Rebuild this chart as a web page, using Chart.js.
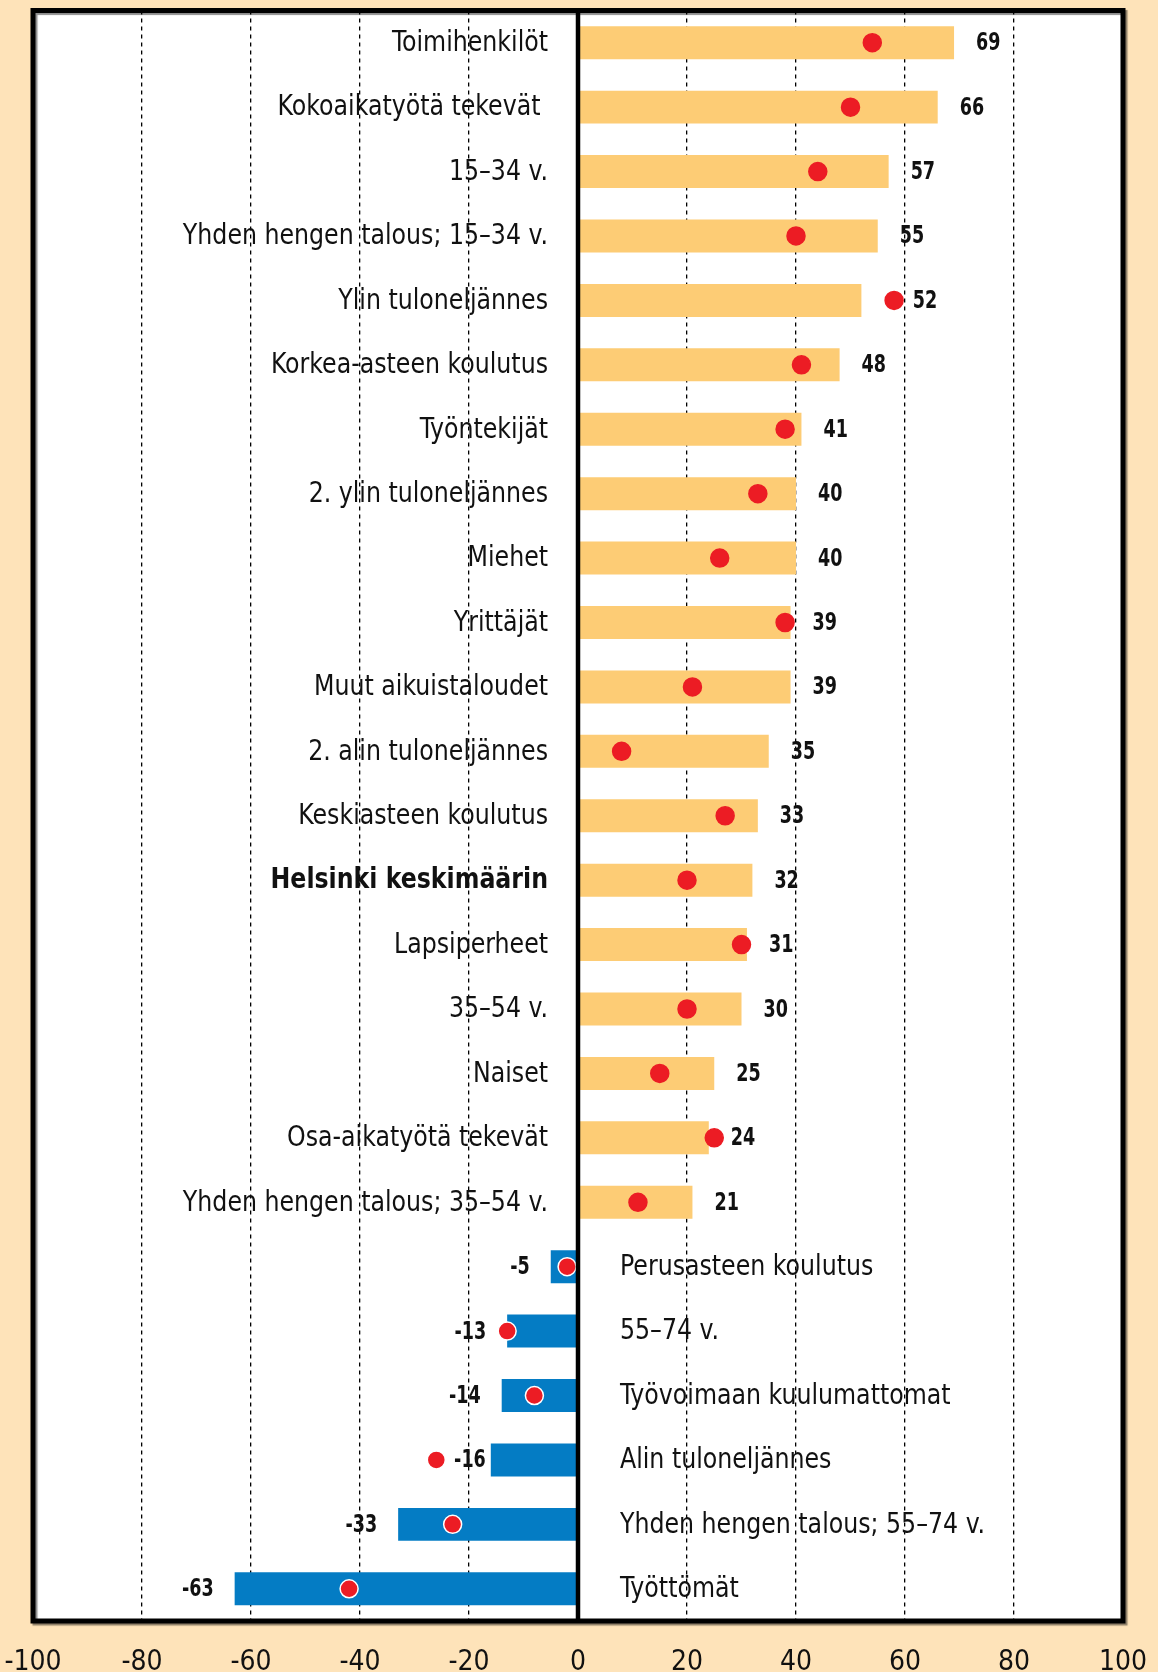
<!DOCTYPE html>
<html>
<head>
<meta charset="utf-8">
<script src="https://cdn.jsdelivr.net/npm/chart.js@4.4.1/dist/chart.umd.min.js"></script>
<style>
  html, body { margin: 0; padding: 0; background: #fee3b9; }
  #wrap { width: 1158px; height: 1672px; }
</style>
</head>
<body>
<div id="wrap"><canvas id="chart" width="1158" height="1672"></canvas></div>
<script>
const categories = [
  "Toimihenkilöt", "Kokoaikatyötä tekevät ", "15–34 v.", "Yhden hengen talous; 15–34 v.",
  "Ylin tuloneljännes", "Korkea-asteen koulutus", "Työntekijät", "2. ylin tuloneljännes",
  "Miehet", "Yrittäjät", "Muut aikuistaloudet", "2. alin tuloneljännes",
  "Keskiasteen koulutus", "Helsinki keskimäärin", "Lapsiperheet", "35–54 v.",
  "Naiset", "Osa-aikatyötä tekevät", "Yhden hengen talous; 35–54 v.", "Perusasteen koulutus",
  "55–74 v.", "Työvoimaan kuulumattomat", "Alin tuloneljännes", "Yhden hengen talous; 55–74 v.",
  "Työttömät"
]
// bar values (balance, %)
const shares = [69, 66, 57, 55, 52, 48, 41, 40, 40, 39, 39, 35, 33, 32, 31, 30, 25, 24, 21, -5, -13, -14, -16, -33, -63]
// red dots (comparison value)
const dots = [54, 50, 44, 40, 58, 41, 38, 33, 26, 38, 21, 8, 27, 20, 30, 20, 15, 25, 11, -2, -13, -8, -26, -23, -42]
const xTicks = [-100, -80, -60, -40, -20, 0, 20, 40, 60, 80, 100]
const boldCategory = "Helsinki keskimäärin"

const FAMILY = '"DejaVu Sans Condensed", "Liberation Sans", sans-serif'
const RED = "#ec1c24"
const DOT_R = 9

// text squeezed horizontally, the original uses a condensed face
function squeezed(ctx, text, x, y, align, sx) {
  ctx.save()
  ctx.translate(x, y)
  ctx.scale(sx, 1)
  ctx.textAlign = align
  ctx.fillText(text, 0, 0)
  ctx.restore()
}

const plotBg = {
  id: "plotBg",
  beforeDraw(chart) {
    const { ctx, chartArea: a } = chart
    ctx.save()
    ctx.fillStyle = "#fff"
    ctx.fillRect(a.left, a.top, a.right - a.left, a.bottom - a.top)
    ctx.restore()
  },
}

const rowLabels = {
  id: "rowLabels",
  afterDatasetsDraw(chart) {
    const { ctx, chartArea: a, scales: { x, y } } = chart
    const zero = x.getPixelForValue(0)
    ctx.save()
    ctx.strokeStyle = "#000"
    ctx.lineWidth = 4.5
    ctx.beginPath()
    ctx.moveTo(zero, a.top)
    ctx.lineTo(zero, a.bottom)
    ctx.stroke()

    ctx.textBaseline = "middle"
    ctx.fillStyle = "#111"
    const r = DOT_R + 0.75
    const sxVal = 0.78
    categories.forEach((name, i) => {
      const cy = y.getPixelForValue(i) + 1
      const v = shares[i]
      ctx.font = (name === boldCategory ? "bold " : "") + "28px " + FAMILY
      if (v >= 0) squeezed(ctx, name, zero - 30, cy, "right", 0.94)
      else squeezed(ctx, name, zero + 42, cy, "left", 0.94)

      // value label next to the bar end, moved aside if the dot is in the way
      ctx.font = "bold 25px " + FAMILY
      const txt = String(v)
      const w = ctx.measureText(txt).width * sxVal
      const end = x.getPixelForValue(v)
      const dx = x.getPixelForValue(dots[i])
      const hits = (l) => l < dx + r && l + w > dx - r
      if (v >= 0) {
        let left = end + 22
        if (hits(left)) left = dx + r + 9
        squeezed(ctx, txt, left, cy, "left", sxVal)
      } else {
        let right = end - 21
        if (hits(right - w)) right = end - 5
        if (hits(right - w)) right = dx - r - 9
        squeezed(ctx, txt, right - w, cy, "left", sxVal)
      }
    })
    ctx.restore()
  },
}

const frame = {
  id: "frame",
  afterDraw(chart) {
    const { ctx, chartArea: a } = chart
    ctx.save()
    ctx.strokeStyle = "#000"
    ctx.lineWidth = 5
    ctx.shadowColor = "rgba(0,0,0,0.45)"
    ctx.shadowOffsetX = 2
    ctx.shadowOffsetY = 2
    ctx.shadowBlur = 1
    ctx.strokeRect(a.left, a.top, a.right - a.left, a.bottom - a.top)
    ctx.restore()
  },
}

new Chart(document.getElementById("chart"), {
  type: "bar",
  data: {
    labels: categories,
    datasets: [
      {
        type: "line",
        data: dots,
        indexAxis: "y",
        showLine: false,
        pointRadius: DOT_R,
        pointHoverRadius: DOT_R,
        pointBorderWidth: 1.5,
        pointBackgroundColor: RED,
        pointBorderColor: shares.map(v => (v < 0 ? "#fff" : RED)),
        clip: false,
        order: 0,
      },
      {
        data: shares,
        backgroundColor: shares.map(v => (v < 0 ? "#047cc4" : "#fdcc75")),
        barPercentage: 0.512,
        categoryPercentage: 1,
        order: 1,
      },
    ],
  },
  options: {
    indexAxis: "y",
    responsive: false,
    devicePixelRatio: 1,
    animation: false,
    layout: { padding: { top: 8, left: 33, right: 35, bottom: -33 } },
    plugins: { legend: { display: false }, tooltip: { enabled: false } },
    scales: {
      x: {
        type: "linear",
        position: "bottom",
        min: -100,
        max: 100,
        afterBuildTicks: axis => { axis.ticks = xTicks.map(v => ({ value: v })) },
        afterFit: axis => { axis.paddingLeft = 0; axis.paddingRight = 0 },
        ticks: {
          padding: 28,
          color: "#111",
          font: { family: FAMILY, size: 28, lineHeight: 1 },
          callback: v => String(v),
        },
        grid: {
          color: "#000",
          lineWidth: c => (c.tick && c.tick.value % 100 === 0 ? 0 : 1.3),
          drawTicks: false,
        },
        border: { display: false, dash: [4, 4] },
      },
      y: { type: "category", display: false, offset: true, grid: { display: false } },
    },
  },
  plugins: [plotBg, rowLabels, frame],
})
</script>
</body>
</html>
